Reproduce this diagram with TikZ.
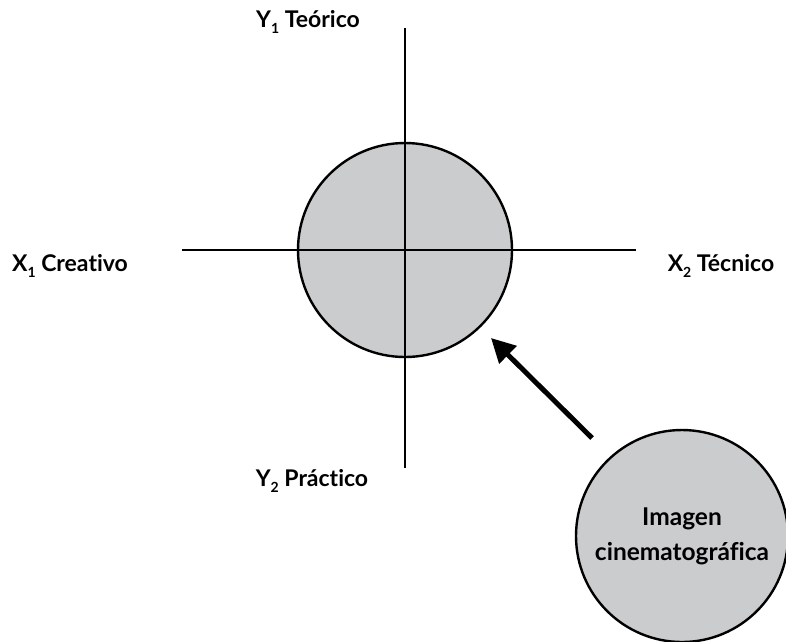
\documentclass[tikz,border=0pt]{standalone}
\usepackage{fontspec}
\setmainfont{Lato}[Ligatures={NoCommon}]
\usetikzlibrary{arrows.meta}
\definecolor{discgray}{RGB}{203,204,206}
\newcommand{\sbs}[1]{{\fontsize{14}{14}\selectfont\raisebox{-6pt}{#1}}}

\begin{document}
\begin{tikzpicture}[
    x=1pt, y=-1pt,
    axis/.style={line width=2pt},
    disc/.style={circle, draw, line width=2.4pt, fill=discgray, inner sep=0pt},
    lbl/.style={font=\fontsize{23}{27}\selectfont\bfseries, inner sep=0pt},
    push/.style={line width=5pt, -{Triangle[length=24pt,width=24pt]}}
]
\useasboundingbox (0,0) rectangle (786,641);
% ejes
\coordinate (ytop) at (405,28);
\coordinate (ybot) at (405,468);
\coordinate (xleft) at (182,250);
\coordinate (xright) at (636,250);
\node[disc, minimum size=214pt] (core) at (405,250) {};
\draw[axis] (ytop) -- (ybot);
\draw[axis] (xleft) -- (xright);
% etiquetas
\node[lbl] (y1) at (308,22) {Y\sbs{1} Teórico};
\node[lbl] (y2) at (312,481) {Y\sbs{2} Práctico};
\node[lbl] (x1) at (70,266) {X\sbs{1} Creativo};
\node[lbl] (x2) at (721,266) {X\sbs{2} Técnico};
% imagen
\node[disc, minimum size=212pt, lbl, align=center, font=\fontsize{24.5}{35}\selectfont\bfseries] (img) at (682,536) {Imagen\\cinematográfica};
\coordinate (tail) at (592,438);
\coordinate (tip) at (491,338);
\draw[push] (tail) -- (tip);
\end{tikzpicture}
\end{document}
